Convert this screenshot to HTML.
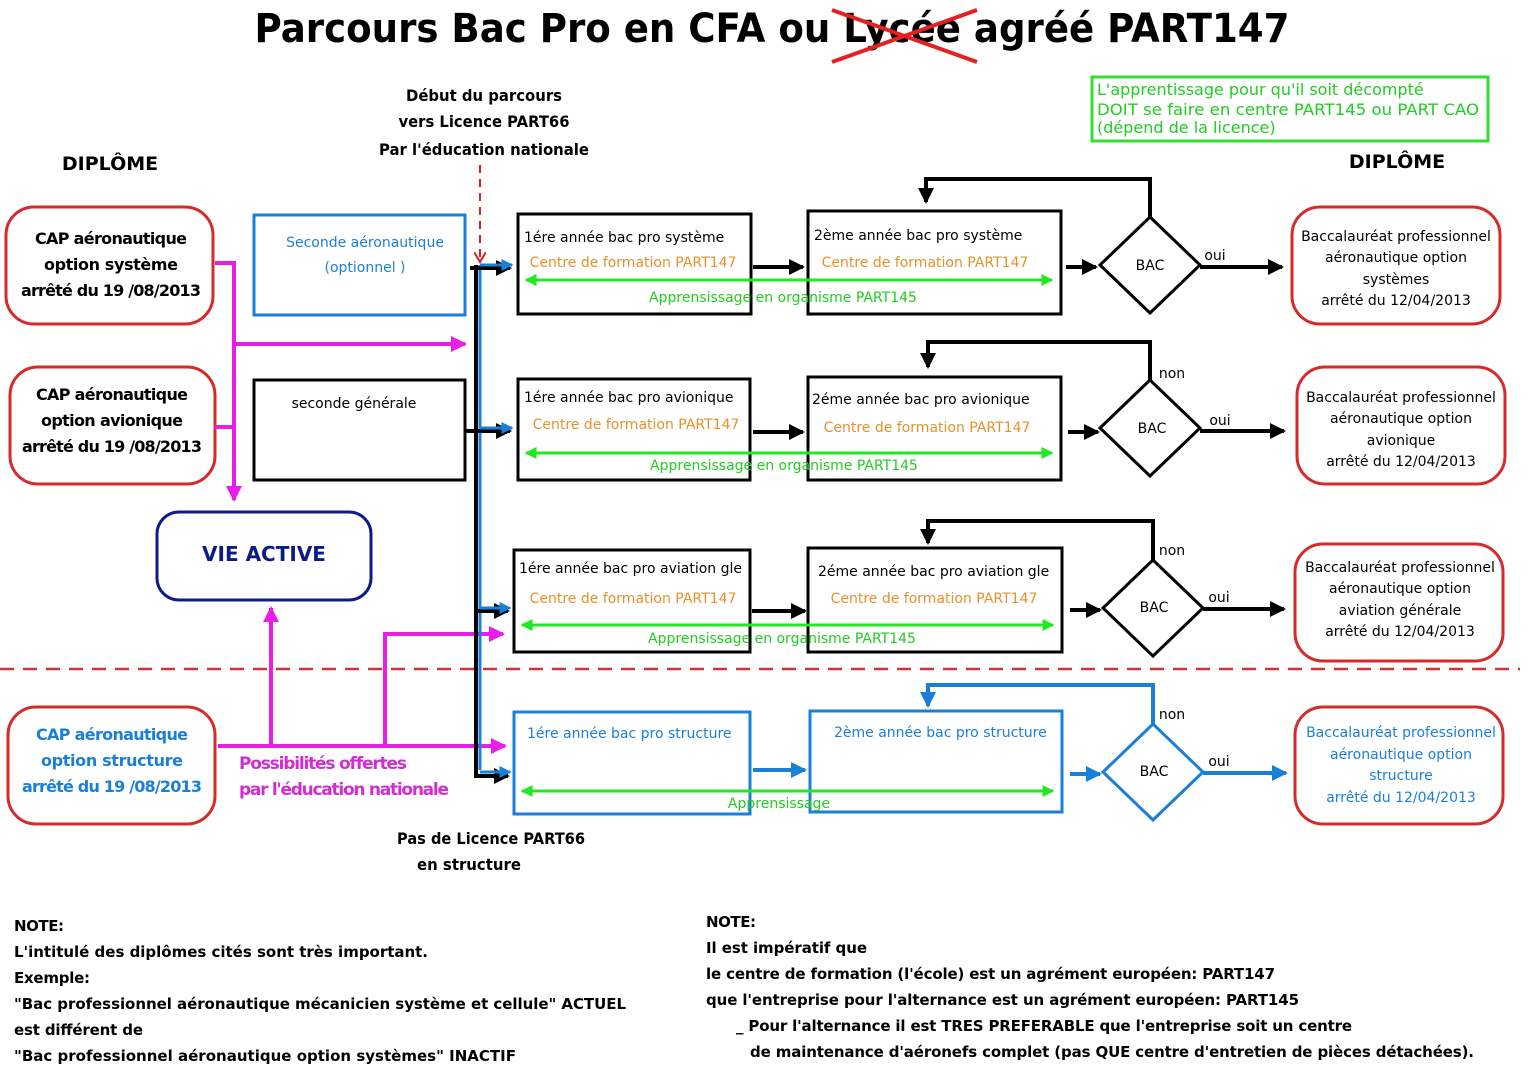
<!DOCTYPE html>
<html><head><meta charset="utf-8"><style>
body{margin:0;background:#fff}
svg{display:block}
text{font-family:"DejaVu Sans","Liberation Sans",sans-serif}
</style></head><body>
<svg width="1536" height="1074" viewBox="0 0 1536 1074" xmlns="http://www.w3.org/2000/svg">
<defs>
<marker id="ak" markerWidth="4" markerHeight="4" refX="3.5" refY="2" orient="auto" markerUnits="strokeWidth"><path d="M0,0 L4,2 L0,4z" fill="#000"/></marker>
<marker id="ab" markerWidth="4" markerHeight="4" refX="3.5" refY="2" orient="auto" markerUnits="strokeWidth"><path d="M0,0 L4,2 L0,4z" fill="#1a7fd6"/></marker>
<marker id="am" markerWidth="4" markerHeight="4" refX="3.5" refY="2" orient="auto" markerUnits="strokeWidth"><path d="M0,0 L4,2 L0,4z" fill="#e81ee8"/></marker>
<marker id="ag" markerWidth="4" markerHeight="4" refX="3.5" refY="2" orient="auto-start-reverse" markerUnits="strokeWidth"><path d="M0,0 L4,2 L0,4z" fill="#22e822"/></marker>
<marker id="ar" markerWidth="6" markerHeight="6" refX="5" refY="3" orient="auto" markerUnits="strokeWidth"><path d="M0,0 L5,3 L0,6" fill="none" stroke="#d22" stroke-width="1"/></marker>
</defs>

<text x="772" y="42" font-size="40" font-weight="bold" text-anchor="middle" textLength="1035" lengthAdjust="spacingAndGlyphs">Parcours Bac Pro en CFA ou Lycée agréé PART147</text>
<line x1="832" y1="10" x2="977" y2="62" stroke="#e52020" stroke-width="4"/>
<line x1="832" y1="62" x2="977" y2="10" stroke="#e52020" stroke-width="4"/>

<g font-size="16" font-weight="bold" text-anchor="middle">
<text x="484" y="101" textLength="156" lengthAdjust="spacingAndGlyphs">Début du parcours</text>
<text x="484" y="127" textLength="171" lengthAdjust="spacingAndGlyphs">vers Licence PART66</text>
<text x="484" y="155" textLength="210" lengthAdjust="spacingAndGlyphs">Par l'éducation nationale</text>
<text x="110" y="170" font-size="19">DIPLÔME</text>
<text x="1397" y="168" font-size="19">DIPLÔME</text>
<text x="491" y="844" textLength="188" lengthAdjust="spacingAndGlyphs">Pas de Licence PART66</text>
<text x="469" y="870" textLength="104" lengthAdjust="spacingAndGlyphs">en structure</text>
</g>

<rect x="1092" y="77" width="396" height="64" fill="none" stroke="#33dd33" stroke-width="3"/>
<g font-size="16" fill="#22cc22"><text x="1097" y="95">L'apprentissage pour qu'il soit décompté</text><text x="1097" y="115" textLength="382" lengthAdjust="spacingAndGlyphs">DOIT se faire en centre PART145 ou PART CAO</text><text x="1097" y="133">(dépend de la licence)</text></g>

<line x1="480" y1="165" x2="480" y2="262" stroke="#d22" stroke-width="2" stroke-dasharray="8,6" marker-end="url(#ar)"/>
<line x1="0" y1="669" x2="1520" y2="669" stroke="#c33" stroke-width="2.5" stroke-dasharray="14,9"/>

<g fill="none" stroke="#d52b2b" stroke-width="3">
<rect x="6" y="207" width="207" height="117" rx="28"/>
<rect x="10" y="367" width="205" height="117" rx="28"/>
<rect x="8" y="707" width="207" height="117" rx="28"/>
<rect x="1292" y="207" width="208" height="117" rx="28"/>
<rect x="1297" y="367" width="208" height="117" rx="28"/>
<rect x="1295" y="544" width="208" height="117" rx="28"/>
<rect x="1295" y="707" width="208" height="117" rx="28"/>
</g>
<g font-size="16" font-weight="bold" text-anchor="middle" lengthAdjust="spacingAndGlyphs">
<text x="111" y="244" textLength="152">CAP aéronautique</text><text x="111" y="270" textLength="134">option système</text><text x="111" y="296" textLength="180">arrêté du 19 /08/2013</text>
<text x="112" y="400" textLength="152">CAP aéronautique</text><text x="112" y="426" textLength="142">option avionique</text><text x="112" y="452" textLength="180">arrêté du 19 /08/2013</text>
<g fill="#1a7fd6"><text x="112" y="740" textLength="152">CAP aéronautique</text><text x="112" y="766" textLength="142">option structure</text><text x="112" y="792" textLength="180">arrêté du 19 /08/2013</text></g>
</g>
<g font-size="14" text-anchor="middle">
<text x="1396" y="241">Baccalauréat professionnel</text><text x="1396" y="262">aéronautique option</text><text x="1396" y="284">systèmes</text><text x="1396" y="305">arrêté du 12/04/2013</text>
<text x="1401" y="402">Baccalauréat professionnel</text><text x="1401" y="423">aéronautique option</text><text x="1401" y="445">avionique</text><text x="1401" y="466">arrêté du 12/04/2013</text>
<text x="1400" y="572">Baccalauréat professionnel</text><text x="1400" y="593">aéronautique option</text><text x="1400" y="615">aviation générale</text><text x="1400" y="636">arrêté du 12/04/2013</text>
<g fill="#1a7fd6"><text x="1401" y="737">Baccalauréat professionnel</text><text x="1401" y="759">aéronautique option</text><text x="1401" y="780">structure</text><text x="1401" y="802">arrêté du 12/04/2013</text></g>
</g>

<rect x="157" y="512" width="214" height="88" rx="22" fill="none" stroke="#0c1b86" stroke-width="3"/>
<text x="264" y="561" font-size="20" font-weight="bold" fill="#0c1b86" text-anchor="middle">VIE ACTIVE</text>

<rect x="254" y="215" width="211" height="100" fill="none" stroke="#1a7fd6" stroke-width="3"/>
<text x="365" y="247" font-size="14" fill="#1a7fd6" text-anchor="middle">Seconde aéronautique</text>
<text x="365" y="272" font-size="14" fill="#1a7fd6" text-anchor="middle">(optionnel )</text>
<rect x="254" y="380" width="211" height="100" fill="none" stroke="#000" stroke-width="3"/>
<text x="354" y="408" font-size="14" text-anchor="middle">seconde générale</text>

<g stroke="#e81ee8" stroke-width="4" fill="none">
<polyline points="215,263 234,263 234,500" marker-end="url(#am)"/>
<line x1="234" y1="344" x2="465" y2="344" marker-end="url(#am)"/>
<line x1="215" y1="427" x2="234" y2="427"/>
<line x1="218" y1="746" x2="505" y2="746" marker-end="url(#am)"/>
<line x1="271" y1="746" x2="271" y2="608" marker-end="url(#am)"/>
<polyline points="385,746 385,634 503,634" marker-end="url(#am)"/>
</g>
<g font-size="17" fill="#d12dd1" font-weight="bold" lengthAdjust="spacingAndGlyphs"><text x="239" y="769" textLength="168">Possibilités offertes</text><text x="239" y="795" textLength="210">par l'éducation nationale</text></g>

<line x1="476" y1="265" x2="476" y2="775" stroke="#000" stroke-width="4"/>
<line x1="480" y1="265" x2="480" y2="770" stroke="#1a7fd6" stroke-width="3"/>
<g stroke-width="4" fill="none">
<line x1="470" y1="268" x2="510" y2="268" stroke="#000" marker-end="url(#ak)"/>
<line x1="465" y1="431" x2="510" y2="431" stroke="#000" marker-end="url(#ak)"/>
<line x1="476" y1="611" x2="508" y2="611" stroke="#000" marker-end="url(#ak)"/>
<polyline points="476,770 476,776 508,776" stroke="#000" marker-end="url(#ak)"/>
</g>

<g fill="none" stroke="#000" stroke-width="3">
<rect x="518" y="214" width="233" height="100"/><rect x="808" y="211" width="253" height="103"/>
<rect x="518" y="379" width="232" height="101"/><rect x="808" y="377" width="253" height="103"/>
<rect x="514" y="550" width="236" height="102"/><rect x="808" y="548" width="254" height="104"/>
<polygon points="1150,217 1200,265 1150,313 1100,265"/>
<polygon points="1150,380 1200,428 1150,476 1100,428"/>
<polygon points="1153,560 1203,608 1153,656 1103,608"/>
</g>
<g fill="none" stroke="#1a7fd6" stroke-width="3">
<rect x="514" y="712" width="236" height="102"/><rect x="810" y="711" width="252" height="101"/>
<polygon points="1153,724 1203,772 1153,820 1103,772"/>
</g>
<g font-size="14">
<text x="524" y="242">1ére année bac pro système</text><text x="814" y="240">2ème année bac pro système</text>
<text x="524" y="402">1ére année bac pro avionique</text><text x="812" y="404">2éme année bac pro avionique</text>
<text x="519" y="573">1ére année bac pro aviation gle</text><text x="818" y="576">2éme année bac pro aviation gle</text>
<g fill="#1a7fd6"><text x="527" y="738">1ére année bac pro structure</text><text x="834" y="737">2ème année bac pro structure</text></g>
<g fill="#e6912a" text-anchor="middle">
<text x="633" y="267">Centre de formation PART147</text><text x="925" y="267">Centre de formation PART147</text>
<text x="636" y="429">Centre de formation PART147</text><text x="927" y="432">Centre de formation PART147</text>
<text x="633" y="603">Centre de formation PART147</text><text x="934" y="603">Centre de formation PART147</text>
</g>
<g fill="#22cc22" text-anchor="middle">
<text x="783" y="302">Apprensissage en organisme PART145</text>
<text x="784" y="470">Apprensissage en organisme PART145</text>
<text x="782" y="643">Apprensissage en organisme PART145</text>
<text x="779" y="808">Apprensissage</text>
</g>
<g text-anchor="middle"><text x="1150" y="270">BAC</text><text x="1152" y="433">BAC</text><text x="1154" y="612">BAC</text><text x="1154" y="776">BAC</text>
<text x="1215" y="260">oui</text><text x="1220" y="425">oui</text><text x="1219" y="602">oui</text><text x="1219" y="766">oui</text>
<text x="1172" y="378">non</text><text x="1172" y="555">non</text><text x="1172" y="719">non</text></g>
</g>

<g stroke="#22e822" stroke-width="3">
<line x1="526" y1="280" x2="1052" y2="280" marker-start="url(#ag)" marker-end="url(#ag)"/>
<line x1="526" y1="453" x2="1052" y2="453" marker-start="url(#ag)" marker-end="url(#ag)"/>
<line x1="522" y1="625" x2="1053" y2="625" marker-start="url(#ag)" marker-end="url(#ag)"/>
<line x1="522" y1="791" x2="1053" y2="791" marker-start="url(#ag)" marker-end="url(#ag)"/>
</g>

<g stroke="#000" stroke-width="4" fill="none">
<line x1="753" y1="267" x2="803" y2="267" marker-end="url(#ak)"/>
<line x1="1066" y1="267" x2="1096" y2="267" marker-end="url(#ak)"/>
<line x1="1200" y1="267" x2="1282" y2="267" marker-end="url(#ak)"/>
<polyline points="1150,217 1150,179 926,179 926,202" marker-end="url(#ak)"/>
<line x1="753" y1="432" x2="803" y2="432" marker-end="url(#ak)"/>
<line x1="1068" y1="432" x2="1098" y2="432" marker-end="url(#ak)"/>
<line x1="1200" y1="431" x2="1284" y2="431" marker-end="url(#ak)"/>
<polyline points="1150,380 1150,342 928,342 928,367" marker-end="url(#ak)"/>
<line x1="752" y1="611" x2="805" y2="611" marker-end="url(#ak)"/>
<line x1="1070" y1="610" x2="1100" y2="610" marker-end="url(#ak)"/>
<line x1="1203" y1="609" x2="1284" y2="609" marker-end="url(#ak)"/>
<polyline points="1153,560 1153,521 928,521 928,543" marker-end="url(#ak)"/>
</g>
<g stroke="#1a7fd6" stroke-width="4" fill="none">
<line x1="753" y1="770" x2="805" y2="770" marker-end="url(#ab)"/>
<line x1="1070" y1="774" x2="1100" y2="774" marker-end="url(#ab)"/>
<line x1="1203" y1="773" x2="1286" y2="773" marker-end="url(#ab)"/>
<polyline points="1153,724 1153,685 928,685 928,706" marker-end="url(#ab)"/>
<line x1="480" y1="265" x2="512" y2="265" marker-end="url(#ab)" stroke-width="3"/>
<line x1="480" y1="428" x2="512" y2="428" marker-end="url(#ab)" stroke-width="3"/>
<line x1="480" y1="608" x2="510" y2="608" marker-end="url(#ab)" stroke-width="3"/>
<line x1="480" y1="772" x2="510" y2="772" marker-end="url(#ab)" stroke-width="3"/>
</g>

<g font-size="15" font-weight="bold" lengthAdjust="spacingAndGlyphs">
<text x="14" y="931" textLength="50">NOTE:</text>
<text x="14" y="957" textLength="414">L'intitulé des diplômes cités sont très important.</text>
<text x="14" y="983" textLength="76">Exemple:</text>
<text x="14" y="1009" textLength="612">"Bac professionnel aéronautique mécanicien système et cellule" ACTUEL</text>
<text x="14" y="1035" textLength="129">est différent de</text>
<text x="14" y="1061" textLength="502">"Bac professionnel aéronautique option systèmes" INACTIF</text>
<text x="706" y="927" textLength="50">NOTE:</text>
<text x="706" y="953" textLength="161">Il est impératif que</text>
<text x="706" y="979" textLength="569">le centre de formation (l'école) est un agrément européen: PART147</text>
<text x="706" y="1005" textLength="593">que l'entreprise pour l'alternance est un agrément européen: PART145</text>
<text x="736" y="1031" textLength="616">_ Pour l'alternance il est TRES PREFERABLE que l'entreprise soit un centre</text>
<text x="750" y="1057" textLength="724">de maintenance d'aéronefs complet (pas QUE centre d'entretien de pièces détachées).</text>
</g>
</svg>
</body></html>
